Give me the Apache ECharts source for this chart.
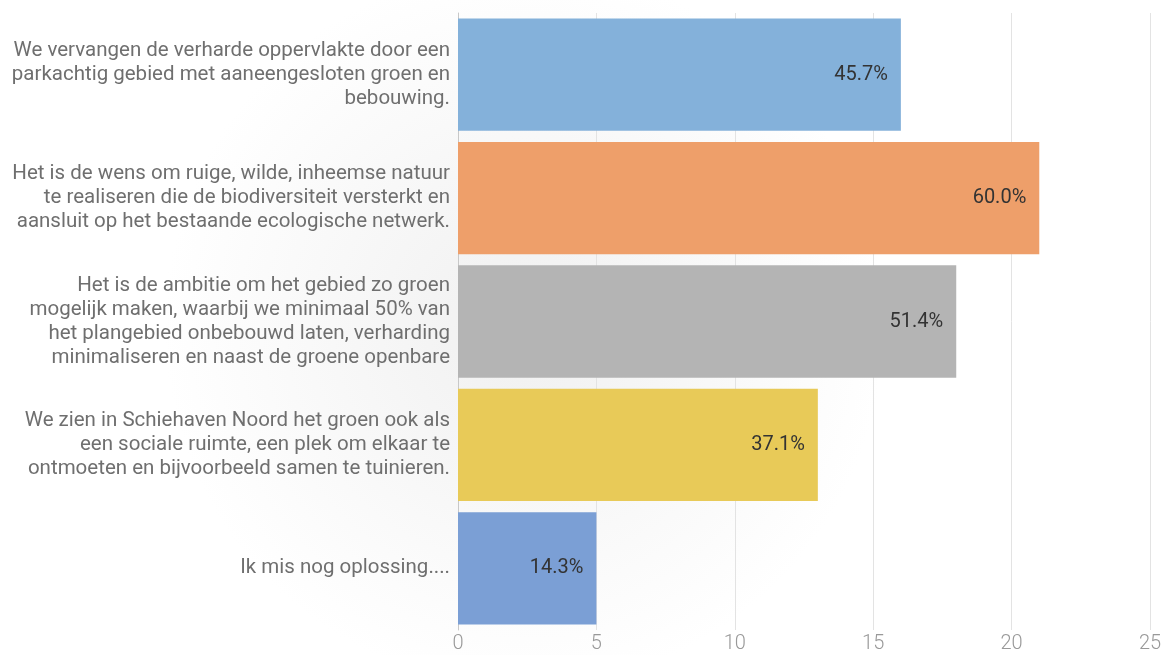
<!DOCTYPE html>
<html>
<head>
<meta charset="utf-8">
<script src="https://cdn.jsdelivr.net/npm/echarts@6/dist/echarts.min.js"></script>
<style>
  html, body { margin: 0; padding: 0; background: #fff; }
  #chart { width: 1165px; height: 655px; }
</style>
</head>
<body>
<div id="chart"></div>
<script>
  // antwoorden (aantal stemmen per optie, meerdere keuzes mogelijk)
  var categories = [
    'We vervangen de verharde oppervlakte door een\nparkachtig gebied met aaneengesloten groen en\nbebouwing.',
    'Het is de wens om ruige, wilde, inheemse natuur\nte realiseren die de biodiversiteit versterkt en\naansluit op het bestaande ecologische netwerk.',
    'Het is de ambitie om het gebied zo groen\nmogelijk maken, waarbij we minimaal 50% van\nhet plangebied onbebouwd laten, verharding\nminimaliseren en naast de groene openbare',
    'We zien in Schiehaven Noord het groen ook als\neen sociale ruimte, een plek om elkaar te\nontmoeten en bijvoorbeeld samen te tuinieren.',
    'Ik mis nog oplossing....'
  ];
  var counts = [16, 21, 18, 13, 5];
  var respondents = 35;
  var colors = ['#84b1da', '#ee9f6a', '#b4b4b4', '#e8ca58', '#7b9fd5'];
  var xTicks = [0, 5, 10, 15, 20, 25];

  var chart = echarts.init(document.getElementById('chart'));

  var option = {
    backgroundColor: {
      type: 'radial',
      x: 0.45, y: 0.5, r: 0.55,
      colorStops: [
        { offset: 0, color: '#f0f0f0' },
        { offset: 1, color: '#ffffff' }
      ]
    },
    animation: false,
    grid: {
      left: 458,
      right: 15,
      top: 13,
      bottom: 25,
      containLabel: false
    },
    xAxis: {
      type: 'value',
      min: xTicks[0],
      max: xTicks[xTicks.length - 1],
      interval: 5,
      axisLine: { show: false },
      axisTick: { show: false },
      splitLine: { show: true, lineStyle: { color: '#e3e3e3', width: 1 } },
      axisLabel: {
        color: '#999',
        fontFamily: 'Roboto',
        fontWeight: 300,
        fontSize: 20,
        margin: 4
      }
    },
    yAxis: {
      type: 'category',
      inverse: true,
      data: categories,
      axisLine: { show: true, lineStyle: { color: '#c8c8c8', width: 1 } },
      axisTick: { show: false },
      axisLabel: {
        color: '#6f6f6f',
        fontFamily: 'Roboto',
        fontSize: 20.5,
        lineHeight: 24,
        align: 'right',
        margin: 8
      }
    },
    series: [{
      type: 'bar',
      barCategoryGap: '9%',
      data: counts.map(function(v, i) {
        return { value: v, itemStyle: { color: colors[i] } };
      }),
      label: {
        show: true,
        position: 'insideRight',
        distance: 13,
        color: '#333',
        fontFamily: 'Roboto',
        fontSize: 20,
        formatter: function(p) {
          return (p.value * 100 / respondents).toFixed(1) + '%';
        }
      }
    }]
  };

  chart.setOption(option);
</script>
</body>
</html>
